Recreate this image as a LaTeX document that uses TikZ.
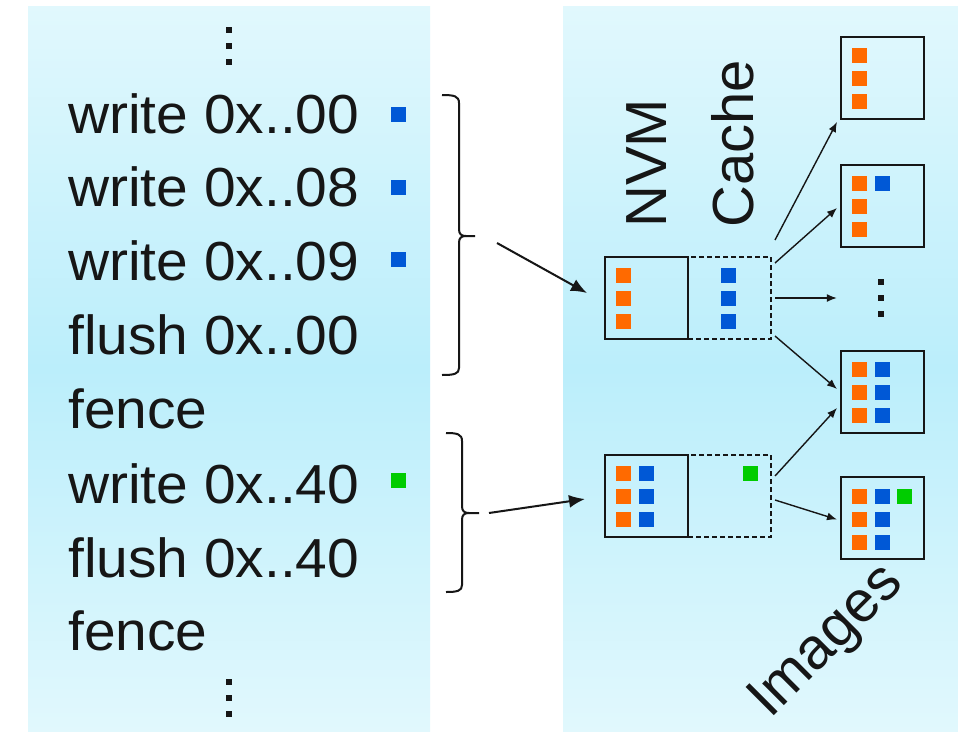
\documentclass[tikz,border=0pt]{standalone}
\usepackage{fontspec}
\setmainfont{Liberation Sans}
\newfontfamily\tracefont[FakeStretch=1.035]{Liberation Sans}
\usetikzlibrary{arrows.meta}

\definecolor{panelTop}{HTML}{E1F8FD}
\definecolor{panelMid}{HTML}{BBEEFB}
\definecolor{memOrange}{HTML}{FF6A00}
\definecolor{memBlue}{HTML}{0058D6}
\definecolor{memGreen}{HTML}{00CC00}
\definecolor{ink}{HTML}{161616}

% a 15pt coloured cell centred at (x,y)
\newcommand\cell[3]{\fill[#1] ({#2-7.5},{#3-7.5}) rectangle ++(15,15);}
% a small square dot centred at (x,y)
\newcommand\dotsq[2]{\fill[ink] ({#1-3},{#2-3}) rectangle ++(6,6);}

\begin{document}
\begin{tikzpicture}[x=1pt,y=-1pt,
  codeline/.style={anchor=base west, inner sep=0pt, text=ink,
                   font=\tracefont\fontsize{55}{60}\selectfont},
  sidelabel/.style={anchor=base west, inner sep=0pt, text=ink,
                    font=\fontsize{58}{62}\selectfont},
  memBox/.style={draw=ink, line width=2pt, minimum width=83pt,
                 minimum height=82pt, inner sep=0pt, outer sep=0pt,
                 anchor=north west},
  cacheBox/.style={memBox, dash pattern=on 5pt off 3pt},
  bigarrow/.style={draw=ink, line width=2pt,
                   -{Latex[length=16pt,width=13pt]}},
  smallarrow/.style={draw=ink, line width=1.4pt,
                     -{Latex[length=10pt,width=8pt]}},
  bracket/.style={draw=ink, line width=2pt},
]
\useasboundingbox (0,0) rectangle (958,731);
\fill[white] (0,0) rectangle (958,731);

% the two shaded panels
\shade[top color=panelTop, bottom color=panelTop, middle color=panelMid]
  (28,6) rectangle (430,731);
\shade[top color=panelTop, bottom color=panelTop, middle color=panelMid]
  (563,6) rectangle (958,731);

% ---------------- instruction trace ----------------
\dotsq{229}{30}\dotsq{229}{46}\dotsq{229}{62}
\node[codeline] (w00) at (68,133) {write 0x..00};
\node[codeline] (w08) at (68,206) {write 0x..08};
\node[codeline] (w09) at (68,280) {write 0x..09};
\node[codeline] (f00) at (68,354) {flush 0x..00};
\node[codeline] (fenceA) at (68,428) {fence};
\node[codeline] (w40) at (68,503) {write 0x..40};
\node[codeline] (f40) at (68,577) {flush 0x..40};
\node[codeline] (fenceB) at (68,650) {fence};
\dotsq{229}{682}\dotsq{229}{698}\dotsq{229}{714}

\cell{memBlue}{398}{114}
\cell{memBlue}{398}{187}
\cell{memBlue}{398}{259}
\cell{memGreen}{398}{480}

% ---------------- brackets ----------------
\coordinate (braceA) at (475,236);
\draw[bracket] (442,95) .. controls (454,95) and (459,96) .. (459,103)
  -- (459,229) .. controls (459,234) and (461,236) .. (466,236) -- (braceA);
\draw[bracket] (466,236) .. controls (461,236) and (459,238) .. (459,243)
  -- (459,368) .. controls (459,374) and (454,375) .. (442,375);

\coordinate (braceB) at (479,513);
\draw[bracket] (446,433) .. controls (457,433) and (462,434) .. (462,441)
  -- (462,506) .. controls (462,511) and (464,513) .. (469,513) -- (braceB);
\draw[bracket] (469,513) .. controls (464,513) and (462,515) .. (462,520)
  -- (462,585) .. controls (462,591) and (457,592) .. (446,592);

% ---------------- NVM / cache states ----------------
\node[cacheBox] (cacheA) at (688,257) {};
\node[memBox] (nvmA) at (605,257) {};
\cell{memOrange}{623.5}{275}\cell{memOrange}{623.5}{298}\cell{memOrange}{623.5}{321}
\cell{memBlue}{728.5}{275}\cell{memBlue}{728.5}{298}\cell{memBlue}{728.5}{321}

\node[cacheBox] (cacheB) at (688,455) {};
\node[memBox] (nvmB) at (605,455) {};
\cell{memOrange}{623.5}{473}\cell{memOrange}{623.5}{496}\cell{memOrange}{623.5}{519}
\cell{memBlue}{646.5}{473}\cell{memBlue}{646.5}{496}\cell{memBlue}{646.5}{519}
\cell{memGreen}{750.5}{473}

\node[sidelabel, rotate=90] (nvmLabel) at (666,228) {NVM};
\node[sidelabel, rotate=90] (cacheLabel) at (753,228) {Cache};

% ---------------- resulting images ----------------
\node[memBox] (imgA) at (841,37) {};
\cell{memOrange}{859.5}{55}\cell{memOrange}{859.5}{78}\cell{memOrange}{859.5}{101}

\node[memBox] (imgB) at (841,165) {};
\cell{memOrange}{859.5}{183}\cell{memOrange}{859.5}{206}\cell{memOrange}{859.5}{229}
\cell{memBlue}{882.5}{183}

\node[inner sep=0pt, minimum width=8pt, minimum height=40pt] (imgDots) at (881,298) {};
\dotsq{881}{282}\dotsq{881}{298}\dotsq{881}{314}

\node[memBox] (imgC) at (841,351) {};
\cell{memOrange}{859.5}{369}\cell{memOrange}{859.5}{392}\cell{memOrange}{859.5}{415}
\cell{memBlue}{882.5}{369}\cell{memBlue}{882.5}{392}\cell{memBlue}{882.5}{415}

\node[memBox] (imgD) at (841,477) {};
\cell{memOrange}{859.5}{496}\cell{memOrange}{859.5}{519}\cell{memOrange}{859.5}{542}
\cell{memBlue}{882.5}{496}\cell{memBlue}{882.5}{519}\cell{memBlue}{882.5}{542}
\cell{memGreen}{904.5}{496}

\node[sidelabel, rotate=45] (imgLabel) at (770,720) {Images};

% ---------------- connectors ----------------
\draw[bigarrow] ([shift={(22,7)}]braceA) -- ([shift={(-18,-5)}]nvmA.west);
\draw[bigarrow] ([shift={(10,0)}]braceB) -- ([shift={(-20,3)}]nvmB.west);

\draw[smallarrow] ([shift={(4,-17)}]cacheA.north east) -- ([shift={(-4,3)}]imgA.south west);
\draw[smallarrow] ([shift={(4,6)}]cacheA.north east) -- ([shift={(-4,2)}]imgB.west);
\draw[smallarrow] ([shift={(4,0)}]cacheA.east) -- ([shift={(-40,0)}]imgDots.west);
\draw[smallarrow] ([shift={(4,79)}]cacheA.north east) -- ([shift={(-4,-3)}]imgC.west);
\draw[smallarrow] ([shift={(4,21)}]cacheB.north east) -- ([shift={(-4,16)}]imgC.west);
\draw[smallarrow] ([shift={(4,45)}]cacheB.north east) -- ([shift={(-4,1.5)}]imgD.west);
\end{tikzpicture}
\end{document}
